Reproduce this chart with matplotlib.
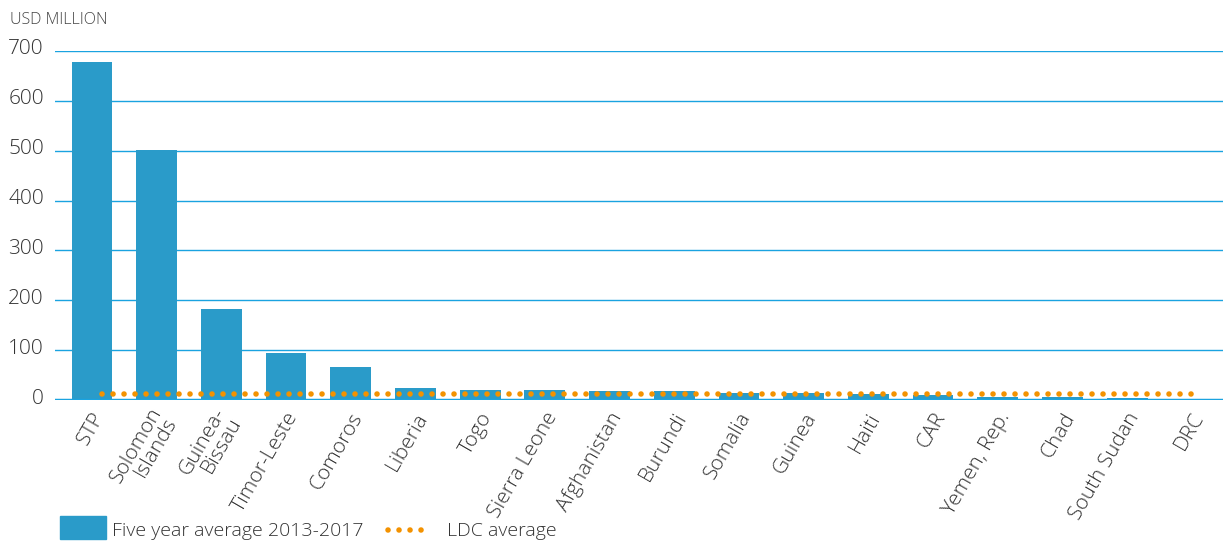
import numpy as np
import matplotlib.pyplot as plt
from matplotlib.patches import Rectangle
from matplotlib.lines import Line2D
import matplotlib.transforms as mtransforms

countries = ['STP', 'Solomon\nIslands', 'Guinea-\nBissau', 'Timor-Leste', 'Comoros', 'Liberia',
             'Togo', 'Sierra Leone', 'Afghanistan', 'Burundi', 'Somalia', 'Guinea', 'Haiti',
             'CAR', 'Yemen, Rep.', 'Chad', 'South Sudan', 'DRC']
five_year_avg = [678, 501, 182, 94, 66, 24, 20, 20, 18, 18, 15, 15, 12, 10, 7, 6, 5, 2]
ldc_average = 12
yticks = [0, 100, 200, 300, 400, 500, 600, 700]

BLUE = '#2a9bc9'
GRID = '#1aa3e0'
ORANGE = '#f39200'
DOTS = (0, (0.01, 1.97))

plt.rcParams['font.family'] = ['Open Sans', 'DejaVu Sans']
plt.rcParams['font.weight'] = 'light'

fig = plt.figure(figsize=(12.23, 5.44), dpi=100)
ax = fig.add_axes([55 / 1223, 144 / 544, 1 - 55 / 1223, 349 / 544])

x = np.arange(len(countries))
ax.bar(x, five_year_avg, width=0.63, color=BLUE, zorder=3)
ax.plot([0.15, len(countries) - 1], [ldc_average, ldc_average], color=ORANGE,
        linestyle=DOTS, linewidth=4, dash_capstyle='round', zorder=4)

ax.set_xlim(-0.57, len(countries) - 0.52)
ax.set_ylim(0, 700)
ax.set_yticks(yticks)
ax.set_yticklabels([str(v) for v in yticks], fontsize=15, color='#333333')
ax.yaxis.grid(True, color=GRID, linewidth=1.0, zorder=0)
ax.axhline(0, color=GRID, linewidth=2.5, zorder=5)
ax.tick_params(axis='y', length=0, pad=8)
ax.tick_params(axis='x', length=0, pad=10)
up = mtransforms.ScaledTranslation(0, 4 / 100, fig.dpi_scale_trans)
for lbl in ax.yaxis.get_majorticklabels():
    lbl.set_transform(lbl.get_transform() + up)

ax.set_xticks(x)
ax.set_xticklabels(countries, rotation=60, ha='right', va='center', rotation_mode='anchor',
                   fontsize=15, color='#333333', linespacing=0.85)
right = mtransforms.ScaledTranslation(8 / 100, 0, fig.dpi_scale_trans)
for lbl in ax.xaxis.get_majorticklabels():
    lbl.set_transform(lbl.get_transform() + right)
for s in ax.spines.values():
    s.set_visible(False)

fig.text(10 / 1223, 1 - 20 / 544, 'USD MILLION', fontsize=11.5, color='#444444', va='center')

# legend
fig.patches.append(Rectangle((60 / 1223, 1 - 539 / 544), 46 / 1223, 23 / 544,
                             transform=fig.transFigure, color=BLUE))
fig.text(112 / 1223, 1 - 531 / 544, 'Five year average 2013-2017', fontsize=14,
         color='#333333', va='center')
fig.lines.append(Line2D([388 / 1223, 432 / 1223], [1 - 530 / 544, 1 - 530 / 544],
                        transform=fig.transFigure, color=ORANGE, linestyle=DOTS,
                        linewidth=4, dash_capstyle='round'))
fig.text(447 / 1223, 1 - 531 / 544, 'LDC average', fontsize=14, color='#333333', va='center')

fig.savefig('out.png', dpi=100)
